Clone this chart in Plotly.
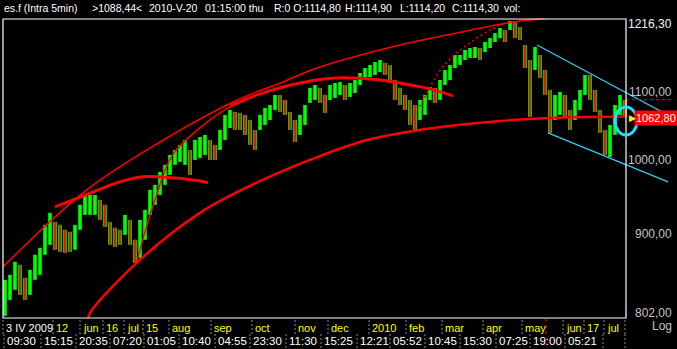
import math
import plotly.graph_objects as go

# ---------------- data ----------------
# one entry per screen column of price bars (bar index 0..124)
high = [843.8, 849.8, 865.6, 861.9, 846.2, 855.8, 874.2, 882.9, 912.0, 927.5,
        915.8, 912.0, 905.6, 903.0, 912.0, 938.1, 951.4, 951.4, 951.4, 944.7,
        938.1, 915.8, 908.2, 905.6, 924.9, 918.4, 892.9, 918.4, 931.5, 958.2,
        965.0, 982.8, 992.6, 1006.7, 1013.8, 1021.0, 1028.2, 1013.8, 1028.2, 1032.6,
        1035.5, 1028.2, 1021.0, 1042.8, 1065.2, 1072.7, 1069.7, 1068.2, 1065.2, 1057.7,
        1042.8, 1065.2, 1075.7, 1080.3, 1095.7, 1095.7, 1088.0, 1069.7, 1057.7, 1065.2,
        1080.3, 1106.6, 1111.3, 1106.6, 1095.7, 1111.3, 1114.4, 1115.9, 1111.3, 1114.4,
        1119.1, 1130.3, 1138.2, 1143.1, 1147.9, 1151.2, 1146.3, 1143.1, 1119.1, 1106.6,
        1095.7, 1088.0, 1080.3, 1088.0, 1095.7, 1108.1, 1106.6, 1119.1, 1135.0, 1143.1,
        1159.3, 1159.3, 1167.5, 1170.8, 1172.5, 1170.8, 1180.8, 1187.4, 1195.8, 1204.4,
        1200.9, 1216.3, 1214.6, 1206.0, 1175.8, 1151.2, 1172.5, 1159.3, 1135.0, 1103.5,
        1095.7, 1100.4, 1095.7, 1072.7, 1088.0, 1103.5, 1127.1, 1127.1, 1103.5, 1072.7,
        1042.8, 1050.2, 1080.3, 1095.7, 1088.0]
low = [802.0, 820.3, 832.0, 826.1, 820.3, 826.1, 843.8, 849.8, 874.2, 886.6,
       880.4, 877.9, 876.7, 877.9, 880.4, 905.6, 924.9, 924.9, 924.9, 918.4,
       909.4, 886.6, 884.1, 886.6, 899.2, 886.6, 864.3, 870.5, 892.9, 924.9,
       938.1, 951.4, 965.0, 978.7, 992.6, 996.8, 992.6, 978.7, 999.6, 1002.4,
       1006.7, 999.6, 999.6, 1013.8, 1028.2, 1045.8, 1042.8, 1042.8, 1035.5, 1021.0,
       1013.8, 1042.8, 1050.2, 1057.7, 1072.7, 1069.7, 1065.2, 1042.8, 1025.3, 1035.5,
       1050.2, 1083.4, 1088.0, 1083.4, 1068.2, 1088.0, 1091.1, 1095.7, 1088.0, 1092.6,
       1098.8, 1111.3, 1119.1, 1123.9, 1127.1, 1131.8, 1127.1, 1119.1, 1088.0, 1080.3,
       1072.7, 1050.2, 1042.8, 1057.7, 1065.2, 1088.0, 1083.4, 1088.0, 1111.3, 1119.1,
       1138.2, 1143.1, 1151.2, 1154.5, 1154.5, 1151.2, 1164.2, 1170.8, 1180.8, 1187.4,
       1180.8, 1200.9, 1187.4, 1184.1, 1138.2, 1062.2, 1135.0, 1122.3, 1095.7, 1038.4,
       1057.7, 1065.2, 1060.7, 1042.8, 1057.7, 1072.7, 1095.7, 1088.0, 1069.7, 1038.4,
       1006.7, 1003.8, 1035.5, 1065.2, 1062.2]
bar_idx = list(range(len(high)))

# hand-drawn arcs (bar index, price)
arc_top_x = [-0.4, 15.6, 28.4, 45.6, 55.6, 62.4, 79, 88.4, 101.6, 108]
arc_top_y = [859.4, 954.1, 1013.8, 1084.9, 1116.0, 1138.2, 1175.8, 1192.5, 1214.6, 1219.7]
arc_steep_x = [26.4, 28, 30, 33.4, 39, 45, 48.4]
arc_steep_y = [865.6, 903.0, 944.7, 1005.3, 1045.8, 1077.3, 1088.0]
arc_short_x = [10, 13.6, 23, 27, 31, 39, 40.6]
arc_short_y = [935.5, 944.7, 969.1, 975.9, 975.9, 970.4, 967.7]
arc_mid_x = [45, 51, 59, 66.4, 75, 81, 85, 89.6]
arc_mid_y = [1078.8, 1097.3, 1114.4, 1122.3, 1119.1, 1111.3, 1105.1, 1094.2]
arc_low_x = [16.6, 17.4, 27, 39, 49, 61, 72.4, 85.6, 99, 109, 124.2]
arc_low_y = [799.6, 808.8, 868.0, 927.5, 963.6, 999.6, 1028.2, 1045.8, 1056.2, 1060.7, 1062.8]
arc_dot_x = [81, 84.4, 86.4, 88.4, 91.6, 95, 97, 100.4]
arc_dot_y = [1051.7, 1098.8, 1127.1, 1147.9, 1170.8, 1190.8, 1200.9, 1214.6]

# channel lines
chan_up_x = [106.4, 134.4]
chan_up_y = [1175.8, 1057.7]
chan_dn_x = [108.6, 132.6]
chan_dn_y = [1038.4, 969.1]

last_price = 1062.80
cursor_price = 1088.44
cursor_bar = 108.2
frame_end = 124.2
# ellipse around the last bars: bar range and price range
ring_x = (122.0, 126.4)
ring_y = (1035.5, 1077.3)

# price scale labels
y_ticks = [1216.30, 1100.00, 1000.00, 900.00, 802.00]

# time scale labels (bar position of the separator, text)
top_at = [-0.4, 9.6, 15, 19.6, 23.8, 27.6, 32.8, 41.2, 49.4, 58, 64.6,
          72.8, 80.2, 87.4, 95.6, 103.4, 111.6, 115.8, 119.8]
top_text = ["3 IV 2009", "12", "jun", "16", "jul", "15", "aug", "sep", "oct",
            "nov", "dec", "2010", "feb", "mar", "apr", "may", "jun", "17", "jul"]
bot_at = [-0.2, 7.2, 14.2, 21, 27.8, 34.8, 42, 49, 56.2, 63.2, 70.4, 77, 84,
          91, 98.2, 105, 112]
bot_text = ["09:30", "15:15", "20:35", "07:20", "01:05", "10:40", "04:55",
            "23:30", "11:30", "15:25", "12:21", "05:52", "10:45", "15:30",
            "07:25", "19:00", "05:21"]
extra_seps_top = [124]
extra_seps_bot = [119.6, 124]

header = [(2, "es.f (Intra 5min)"), (90, ">1088,44<"), (147, "2010-V-20"),
          (203, "01:15:00 thu"), (272, "R:0 O:1114,80"), (343, "H:1114,90"),
          (398, "L:1114,20"), (450, "C:1114,30"), (502, "vol:")]

# ---------------- figure ----------------
W, H = 677, 349
ML, MR, MT, MB = 2, 0, 18, 30
PH = H - MT - MB
FONT = "Liberation Sans, Arial, sans-serif"

def py(px):  # screen row -> paper y
    return (H - MB - px) / PH

fig = go.Figure()

mid = [(h + l) / 2 for h, l in zip(high, low)]
gx, gy, rx, ry = [], [], [], []
for i, h, l in zip(bar_idx, high, low):
    gx += [i, i, None]
    gy += [l, h, None]
    if i > 0 and mid[i] < mid[i - 1]:
        rx += [i, i, None]
        ry += [l, h, None]
fig.add_trace(go.Scatter(x=gx, y=gy, mode="lines", line=dict(color="#00ff00", width=3.6)))
fig.add_trace(go.Scatter(x=rx, y=ry, mode="lines", line=dict(color="#ff0000", width=1.8)))

red = "#ff0000"
for xs, ys, w, dash in [(arc_top_x, arc_top_y, 1.5, "solid"),
                        (arc_steep_x, arc_steep_y, 1.5, "solid"),
                        (arc_short_x, arc_short_y, 3, "solid"),
                        (arc_mid_x, arc_mid_y, 3, "solid"),
                        (arc_low_x, arc_low_y, 2.5, "solid"),
                        (arc_dot_x, arc_dot_y, 1.5, "2px,3px")]:
    fig.add_trace(go.Scatter(x=xs, y=ys, mode="lines",
                             line=dict(color=red, width=w, dash=dash, shape="spline", smoothing=1.0)))

cyan = "#33ccee"
fig.add_trace(go.Scatter(x=chan_up_x, y=chan_up_y, mode="lines", line=dict(color=cyan, width=1.3)))
fig.add_trace(go.Scatter(x=chan_dn_x, y=chan_dn_y, mode="lines", line=dict(color=cyan, width=1.3)))

# cursor price line in the scale area
fig.add_trace(go.Scatter(x=[frame_end, 133.4], y=[cursor_price, cursor_price], mode="lines",
                         line=dict(color=red, width=1, dash="3px,3px")))

shapes = []
# frame
shapes.append(dict(type="rect", xref="x", yref="paper", x0=-0.4, x1=frame_end,
                   y0=py(318), y1=py(19), line=dict(color="white", width=1.2)))
# ellipse
shapes.append(dict(type="circle", xref="x", yref="y", x0=ring_x[0], x1=ring_x[1],
                   y0=ring_y[0], y1=ring_y[1], line=dict(color="#22ddff", width=3)))
# time-scale separators
sep_col = "#8c8c8c"
for a in top_at + extra_seps_top:
    shapes.append(dict(type="line", xref="x", yref="paper", x0=a, x1=a, y0=py(320), y1=py(334),
                       line=dict(color=sep_col, width=1, dash="2px,2px")))
for a in bot_at + extra_seps_bot:
    shapes.append(dict(type="line", xref="x", yref="paper", x0=a, x1=a, y0=py(334), y1=py(349),
                       line=dict(color=sep_col, width=1, dash="2px,2px")))
# cursor time line
shapes.append(dict(type="line", xref="x", yref="paper", x0=cursor_bar, x1=cursor_bar,
                   y0=py(319), y1=py(349), line=dict(color=red, width=1, dash="3px,3px")))

ann = []
for a, t in zip(top_at, top_text):
    ann.append(dict(x=a, y=py(328), xref="x", yref="paper", text=t, showarrow=False,
                    xanchor="left", yanchor="middle", xshift=1,
                    font=dict(family=FONT, size=11, color="white" if t == "3 IV 2009" else "#ffff00")))
for a, t in zip(bot_at, bot_text):
    ann.append(dict(x=a, y=py(341), xref="x", yref="paper", text=t, showarrow=False,
                    xanchor="left", yanchor="middle", xshift=1,
                    font=dict(family=FONT, size=11.5, color="white")))
# price labels
for v in y_ticks:
    shift = 0
    if v == max(y_ticks):
        shift = -3
    if v == min(y_ticks):
        shift = 3
    ann.append(dict(x=1, y=math.log10(v), xref="paper", yref="y", xanchor="right", yanchor="middle",
                    xshift=-3, yshift=shift, showarrow=False, text=f"{v:.2f}".replace(".", ","),
                    font=dict(family=FONT, size=12, color="#f2f2f2" if v == max(y_ticks) else "#c4c4c4")))
ann.append(dict(x=1, y=math.log10(last_price), xref="paper", yref="y", xanchor="right",
                yanchor="middle", showarrow=False, text=f"{last_price:.2f}".replace(".", ","),
                bgcolor=red, borderpad=1, yshift=-1, xshift=1,
                font=dict(family=FONT, size=11, color="white")))
# last-price pointer (yellow triangle just right of the frame)
ann.append(dict(x=frame_end, y=math.log10(last_price), xref="x", yref="y", xanchor="left",
                yanchor="middle", xshift=1, yshift=-1, showarrow=False, text="\u25B6",
                font=dict(family="DejaVu Sans", size=9, color="#ffff00")))
ann.append(dict(x=1, y=py(326), xref="paper", yref="paper", xanchor="right", yanchor="middle",
                xshift=-3, showarrow=False, text="Log",
                font=dict(family=FONT, size=12, color="#c4c4c4")))
for px, t in header:
    ann.append(dict(x=(px - ML) / (W - ML - MR), y=py(8), xref="paper", yref="paper",
                    xanchor="left", yanchor="middle", showarrow=False, text=t,
                    font=dict(family=FONT, size=10.5, color="white")))

fig.update_layout(
    width=W, height=H, margin=dict(l=ML, r=MR, t=MT, b=MB),
    paper_bgcolor="black", plot_bgcolor="black", showlegend=False, hovermode=False,
    xaxis=dict(range=[-0.6, 134.4], visible=False, fixedrange=True),
    yaxis=dict(type="log", range=[math.log10(798.4), math.log10(1221.5)], visible=False,
               fixedrange=True),
    shapes=shapes, annotations=ann,
)
fig.write_html("out.html")
